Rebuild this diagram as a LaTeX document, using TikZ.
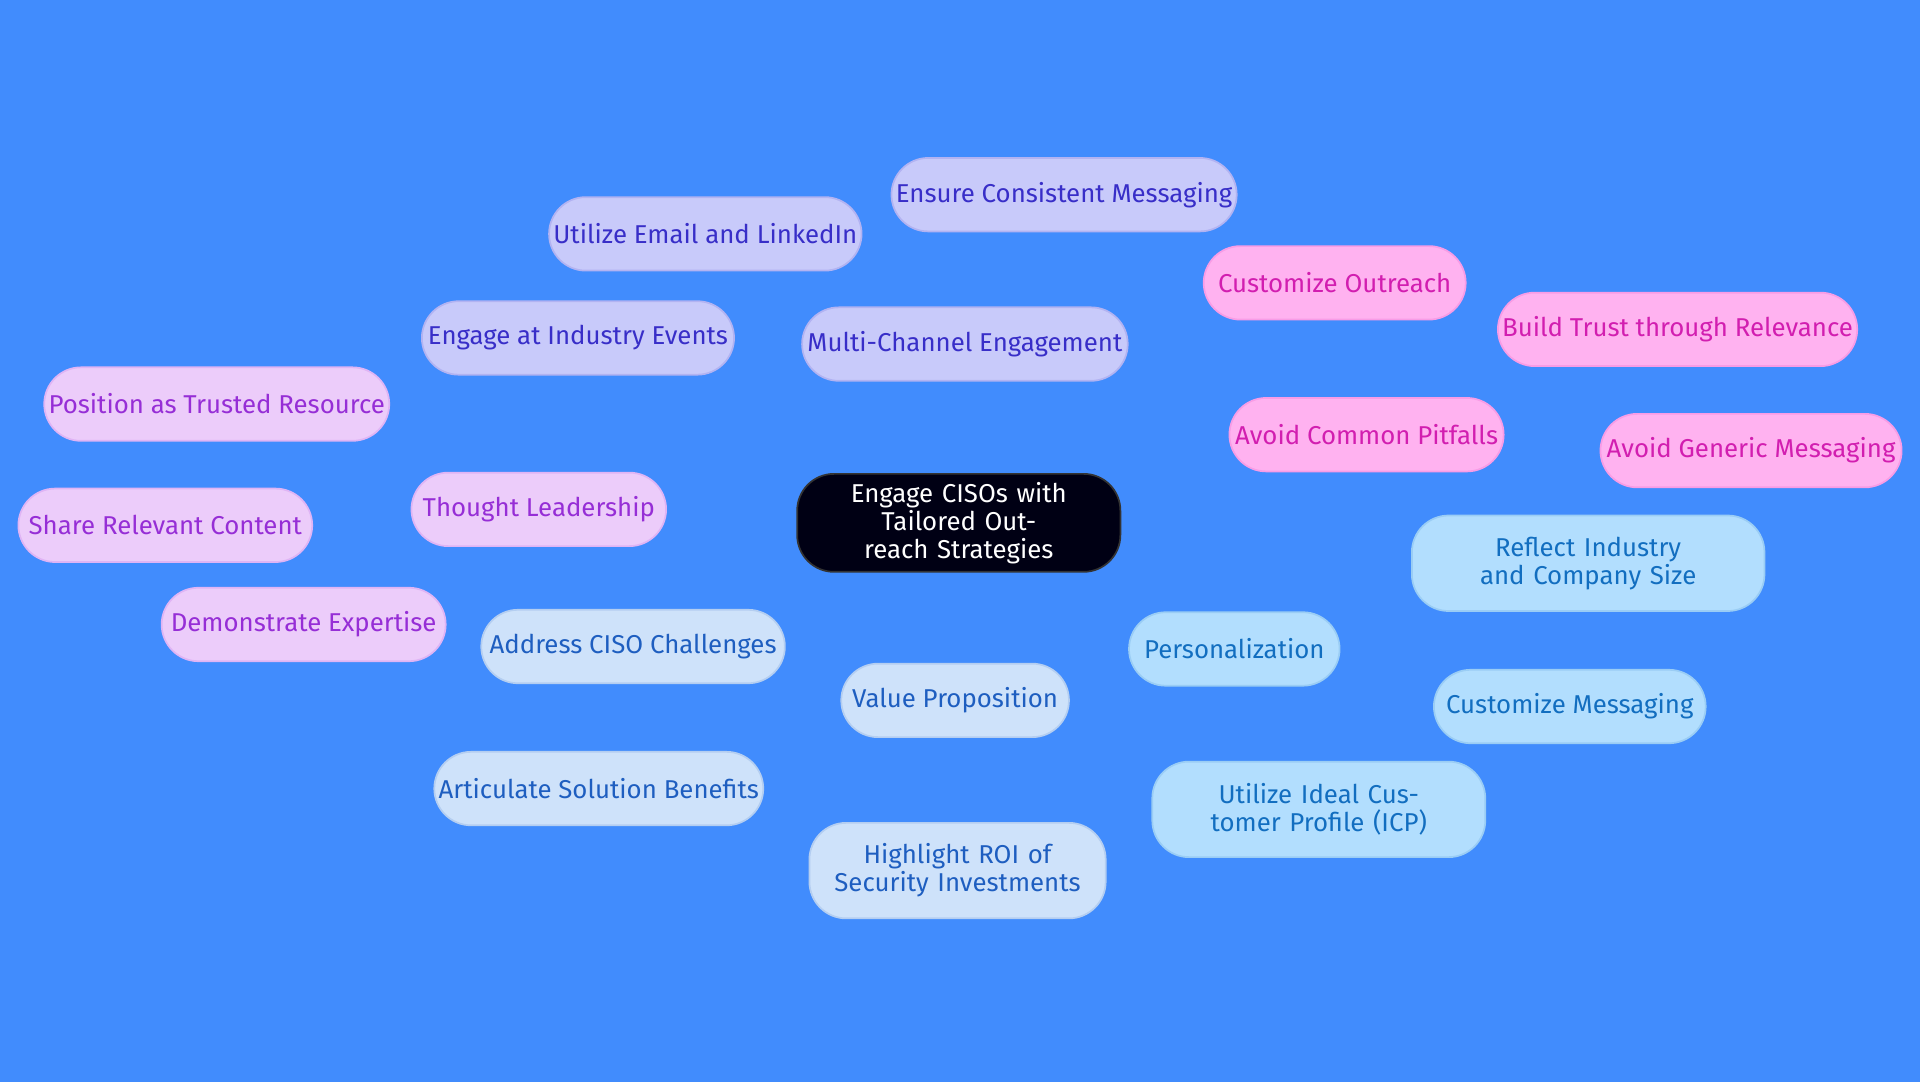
\documentclass[tikz,border=0pt]{standalone}
\usepackage{fontspec}
\setmainfont{Fira Sans}
\usetikzlibrary{backgrounds}
\definecolor{bg}{RGB}{65,140,253}
\definecolor{mcfill}{RGB}{200,202,250}\definecolor{mctext}{RGB}{56,46,200}
\definecolor{apfill}{RGB}{255,178,240}\definecolor{aptext}{RGB}{210,30,176}
\definecolor{pefill}{RGB}{178,222,254}\definecolor{petext}{RGB}{18,110,192}
\definecolor{vpfill}{RGB}{206,226,250}\definecolor{vptext}{RGB}{30,94,192}
\definecolor{tlfill}{RGB}{236,204,250}\definecolor{tltext}{RGB}{150,46,214}
\tikzset{
  box/.style={rounded corners=0.6cm, minimum height=1.2cm, inner sep=2pt, align=center,
    font=\fontsize{12}{13}\selectfont, line width=0.8pt},
  mc/.style={box, fill=mcfill, draw=mcfill!85!mctext, text=mctext},
  ap/.style={box, fill=apfill, draw=apfill!85!aptext, text=aptext},
  pe/.style={box, fill=pefill, draw=pefill!85!petext, text=petext},
  vp/.style={box, fill=vpfill, draw=vpfill!85!vptext, text=vptext},
  tl/.style={box, fill=tlfill, draw=tlfill!85!tltext, text=tltext},
  link/.style={line width=1pt}
}
\begin{document}
\begin{tikzpicture}[x=0.02cm, y=-0.02cm]
\fill[bg] (0,0) rectangle (1568,884);
\node[box, fill=black!92!blue, draw=black!80, text=white, minimum width=5.28cm, minimum height=1.6cm, text width=4.9cm] (root) at (783,427) {Engage CISOs with Tailored Outreach Strategies};

\node[mc, minimum width=5.32cm] (multi) at (788,281) {Multi-Channel Engagement};
\node[mc, minimum width=4.88cm] (email) at (576,191) {Utilize Email and LinkedIn};
\node[mc, minimum width=5.64cm] (consist) at (869,159) {Ensure Consistent Messaging};
\node[mc, minimum width=5.1cm] (events) at (472,276) {Engage at Industry Events};

\node[ap, minimum width=4.48cm] (pitfall) at (1116,355) {Avoid Common Pitfalls};
\node[ap, minimum width=4.28cm] (outreach) at (1090,231) {Customize Outreach};
\node[ap, minimum width=5.68cm] (trust) at (1370,269) {Build Trust through Relevance};
\node[ap, minimum width=4.92cm] (generic) at (1430,368) {Avoid Generic Messaging};

\node[pe, minimum width=3.44cm] (person) at (1008,530) {Personalization};
\node[pe, minimum width=5.76cm, minimum height=1.56cm, text width=5.2cm] (reflect) at (1297,460) {Reflect Industry and Company Size};
\node[pe, minimum width=4.44cm] (custmsg) at (1282,577) {Customize Messaging};
\node[pe, minimum width=5.44cm, minimum height=1.56cm, text width=5cm] (icp) at (1077,661) {Utilize Ideal Customer Profile (ICP)};

\node[vp, minimum width=3.72cm] (value) at (780,572) {Value Proposition};
\node[vp, minimum width=4.96cm] (address) at (517,528) {Address CISO Challenges};
\node[vp, minimum width=5.32cm] (benefit) at (489,644) {Articulate Solution Benefits};
\node[vp, minimum width=4.84cm, minimum height=1.56cm, text width=4.4cm] (roi) at (782,711) {Highlight ROI of Security Investments};

\node[tl, minimum width=4.16cm] (thought) at (440,416) {Thought Leadership};
\node[tl, minimum width=5.52cm] (trusted) at (177,330) {Position as Trusted Resource};
\node[tl, minimum width=4.8cm] (share) at (135,429) {Share Relevant Content};
\node[tl, minimum width=4.64cm] (expert) at (248,510) {Demonstrate Expertise};

\begin{scope}[on background layer]
\fill[bg] (0,0) rectangle (1568,884);
\draw[link, mcfill!85!mctext] (root) -- (multi) (multi) -- (email) (multi) -- (consist) (multi) -- (events);
\draw[link, apfill!80!aptext] (root) -- (pitfall) (pitfall) -- (outreach) (pitfall) -- (trust) (pitfall) -- (generic);
\draw[link, pefill!80!petext] (root) -- (person) (person) -- (reflect) (person) -- (custmsg) (person) -- (icp);
\draw[link, vpfill!80!vptext] (root) -- (value) (value) -- (address) (value) -- (benefit) (value) -- (roi);
\draw[link, tlfill!80!tltext] (root) -- (thought) (thought) -- (trusted) (thought) -- (share) (thought) -- (expert);
\end{scope}
\end{tikzpicture}
\end{document}
